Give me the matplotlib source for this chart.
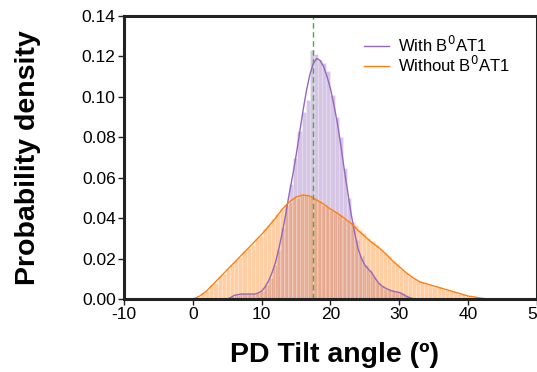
import numpy as np
import matplotlib
matplotlib.use("Agg")
import matplotlib.pyplot as plt

plt.rcParams['font.family'] = ['Liberation Sans', 'DejaVu Sans']
plt.rcParams['axes.unicode_minus'] = False

# histogram bins (degrees) and densities
bin_width = 0.6
with_start = 5.0
with_hist = [0.0005, 0.0015, 0.0022, 0.0028, 0.0024, 0.0026, 0.0023, 0.0030,
             0.0042, 0.0068, 0.0105, 0.0170, 0.0245, 0.0350, 0.0460, 0.0570,
             0.0700, 0.0830, 0.0926, 0.0985, 0.1230, 0.1210, 0.1180, 0.1170,
             0.1130, 0.1010, 0.0900, 0.0800, 0.0650, 0.0500, 0.0380, 0.0290,
             0.0215, 0.0170, 0.0145, 0.0115, 0.0085, 0.0065, 0.0052, 0.0045,
             0.0040, 0.0034, 0.0028, 0.0018, 0.0010, 0.0004]
without_start = 0.0
without_hist = [0.0005, 0.0010, 0.0030, 0.0040, 0.0068, 0.0082, 0.0112, 0.0125,
                0.0150, 0.0168, 0.0195, 0.0206, 0.0238, 0.0255, 0.0268, 0.0300,
                0.0310, 0.0345, 0.0368, 0.0395, 0.0420, 0.0445, 0.0470, 0.0480,
                0.0505, 0.0500, 0.0520, 0.0518, 0.0512, 0.0495, 0.0490, 0.0465,
                0.0462, 0.0440, 0.0435, 0.0420, 0.0398, 0.0392, 0.0378, 0.0365,
                0.0340, 0.0325, 0.0300, 0.0285, 0.0268, 0.0250, 0.0228, 0.0212,
                0.0190, 0.0172, 0.0150, 0.0135, 0.0115, 0.0102, 0.0090, 0.0084,
                0.0076, 0.0072, 0.0062, 0.0060, 0.0050, 0.0047, 0.0040, 0.0035,
                0.0027, 0.0023, 0.0017, 0.0012, 0.0009, 0.0006, 0.0003]

# density curves
with_kde_x = [5.0, 5.5, 6, 7, 8, 9, 9.5, 10, 10.5, 11, 11.5, 12, 12.5, 13, 13.5,
              14, 14.5, 15, 15.5, 16, 16.5, 17, 17.5, 18, 18.5, 19, 19.5, 20,
              20.5, 21, 21.5, 22, 22.5, 23, 23.5, 24, 24.5, 25, 25.5, 26, 26.5,
              27, 27.5, 28, 28.5, 29, 29.5, 30, 30.5, 31, 31.5, 32, 32.5]
with_kde_y = [0.0, 0.0008, 0.0018, 0.0025, 0.0025, 0.0025, 0.003, 0.004, 0.006,
              0.009, 0.013, 0.018, 0.025, 0.033, 0.042, 0.052, 0.061, 0.071,
              0.082, 0.093, 0.103, 0.111, 0.1165, 0.119, 0.118, 0.115, 0.110,
              0.104, 0.096, 0.087, 0.076, 0.064, 0.053, 0.042, 0.033, 0.025,
              0.020, 0.0168, 0.0148, 0.013, 0.0102, 0.0079, 0.0064, 0.0054,
              0.0046, 0.004, 0.0036, 0.0033, 0.0024, 0.0014, 0.0007, 0.0002, 0.0]
without_kde_x = list(range(0, 44))
without_kde_y = [0.0, 0.0015, 0.004, 0.0075, 0.011, 0.0145, 0.018, 0.0215, 0.025,
                 0.0285, 0.032, 0.036, 0.040, 0.0445, 0.048, 0.0505, 0.0515,
                 0.051, 0.049, 0.047, 0.0445, 0.0425, 0.040, 0.0375, 0.034, 0.031,
                 0.028, 0.0255, 0.0225, 0.019, 0.016, 0.013, 0.0105, 0.0085,
                 0.0075, 0.0065, 0.0055, 0.0045, 0.0035, 0.0025, 0.0015, 0.001,
                 0.0004, 0.0]

mean_angle = 17.5

purple = '#9467bd'
orange = '#ff7f0e'

fig = plt.figure(figsize=(5.37, 3.72), dpi=100)
ax = fig.add_axes([0.2309, 0.196, 0.7691, 0.761])

with_edges = with_start + bin_width * np.arange(len(with_hist))
without_edges = without_start + bin_width * np.arange(len(without_hist))
ax.bar(with_edges, with_hist, width=bin_width, align='edge', color=purple,
       alpha=0.38, edgecolor='white', linewidth=0.4)
ax.bar(without_edges, without_hist, width=bin_width, align='edge', color=orange,
       alpha=0.38, edgecolor='white', linewidth=0.4)

ax.plot(with_kde_x, with_kde_y, color=purple, linewidth=1.0, label='With B$^0$AT1')
ax.plot(without_kde_x, without_kde_y, color=orange, linewidth=1.0, label='Without B$^0$AT1')
ax.axvline(mean_angle, color='#3cb043', linestyle='--', linewidth=1.0, dashes=(4, 2.5))

ax.set_xlim(-10, 50)
ax.set_ylim(0, 0.14)
ax.set_xticks(np.arange(-10, 51, 10))
ax.set_yticks(np.arange(0, 0.141, 0.02))
ax.set_yticklabels(['%.2f' % v for v in np.arange(0, 0.141, 0.02)])
ax.tick_params(labelsize=12.5, length=4, width=1, color='#222222', pad=2)

for s in ax.spines.values():
    s.set_linewidth(2.2)
    s.set_color('#222222')

ax.set_xlabel('PD Tilt angle (º)', fontsize=20.5, fontweight='bold')
ax.set_ylabel('Probability density', fontsize=20.5, fontweight='bold')
ax.xaxis.set_label_coords(0.51, -0.15)
ax.yaxis.set_label_coords(-0.2, 0.5)

ax.legend(loc='upper left', bbox_to_anchor=(0.553, 0.975), frameon=False,
          fontsize=12, handlelength=1.5, handletextpad=0.55, labelspacing=0.0,
          borderpad=0.2)

fig.savefig('out.png', dpi=100)
